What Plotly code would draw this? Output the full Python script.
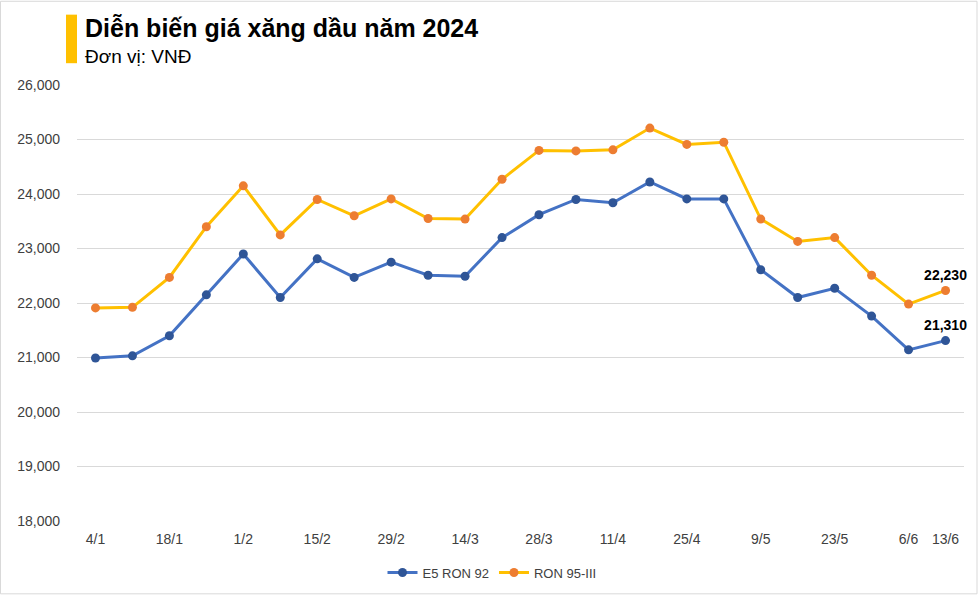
import plotly.graph_objects as go

dates = ["4/1", "11/1", "18/1", "25/1", "1/2", "8/2", "15/2", "22/2", "29/2", "7/3",
         "14/3", "21/3", "28/3", "4/4", "11/4", "18/4", "25/4", "2/5", "9/5", "16/5",
         "23/5", "30/5", "6/6", "13/6"]
shown_ticks = ["4/1", "18/1", "1/2", "15/2", "29/2", "14/3", "28/3", "11/4", "25/4",
               "9/5", "23/5", "6/6", "13/6"]
e5_ron92 = [20990, 21030, 21400, 22150, 22900, 22100, 22810, 22470, 22750, 22510,
            22490, 23200, 23620, 23900, 23840, 24220, 23910, 23910, 22610, 22100,
            22270, 21760, 21140, 21310]
ron95_iii = [21910, 21920, 22470, 23400, 24150, 23250, 23900, 23600, 23910, 23550,
             23540, 24270, 24800, 24790, 24810, 25210, 24910, 24950, 23540, 23130,
             23200, 22510, 21980, 22230]
y_ticks = [18000, 19000, 20000, 21000, 22000, 23000, 24000, 25000, 26000]

FONT = "Liberation Sans, Arial, sans-serif"

def last_label(vals):
    return [""] * (len(vals) - 1) + [f"{vals[-1]:,}"]

fig = go.Figure()
fig.add_trace(go.Scatter(
    x=dates, y=e5_ron92, name="E5 RON 92", mode="lines+markers+text",
    line=dict(color="#4472C4", width=3),
    marker=dict(color="#2F5597", size=9),
    text=last_label(e5_ron92), textposition="top center", cliponaxis=False,
    textfont=dict(family=FONT, size=14, color="#000000", weight="bold"),
))
fig.add_trace(go.Scatter(
    x=dates, y=ron95_iii, name="RON 95-III", mode="lines+markers+text",
    line=dict(color="#FFC000", width=3),
    marker=dict(color="#ED7D31", size=9),
    text=last_label(ron95_iii), textposition="top center", cliponaxis=False,
    textfont=dict(family=FONT, size=14, color="#000000", weight="bold"),
))

W, H = 978, 599
L, R, T, B = 77, 14, 85, 74
pw, ph = W - L - R, H - T - B

def px(x):
    return (x - L) / pw

def py(y):
    return (H - B - y) / ph

fig.update_layout(
    width=W, height=H,
    margin=dict(l=L, r=R, t=T, b=B),
    paper_bgcolor="white", plot_bgcolor="white",
    font=dict(family=FONT, color="#404040"),
    showlegend=True,
    legend=dict(orientation="h", x=px(492), y=py(577), xanchor="center", yanchor="middle",
                font=dict(size=13, color="#404040"), itemwidth=30),
    xaxis=dict(type="category", categoryorder="array", categoryarray=dates,
               range=[-0.5, len(dates) - 0.5],
               tickmode="array", tickvals=shown_ticks, ticktext=shown_ticks,
               showgrid=False, showline=False, zeroline=False, ticks="",
               tickfont=dict(size=14, color="#404040"), ticklabelstandoff=8),
    yaxis=dict(range=[18000, 26000], tickvals=y_ticks, tickformat=",",
               showgrid=True, gridcolor="#D9D9D9", gridwidth=1, zeroline=False,
               showline=False, ticks="", tickfont=dict(size=14, color="#404040"),
               ticklabelstandoff=16),
    shapes=[
        dict(type="rect", xref="paper", yref="paper", x0=px(66), x1=px(77),
             y0=py(63), y1=py(14), fillcolor="#FFC000", line=dict(width=0)),
        dict(type="rect", xref="paper", yref="paper", x0=px(0.5), x1=px(977),
             y0=py(598.5), y1=py(0.5), line=dict(color="#D9D9D9", width=1),
             fillcolor="rgba(0,0,0,0)"),
    ],
    annotations=[
        dict(text="<b>Diễn biến giá xăng dầu năm 2024</b>", xref="paper", yref="paper",
             x=px(83), y=py(27), xanchor="left", yanchor="middle", showarrow=False,
             font=dict(size=25, color="#000000", family=FONT)),
        dict(text="Đơn vị: VNĐ", xref="paper", yref="paper",
             x=px(83), y=py(56), xanchor="left", yanchor="middle", showarrow=False,
             font=dict(size=19, color="#000000", family=FONT)),
    ],
)

fig.write_html("out.html", config={"displayModeBar": False},
               post_script="document.body.style.margin='0';document.body.style.overflow='hidden';")
